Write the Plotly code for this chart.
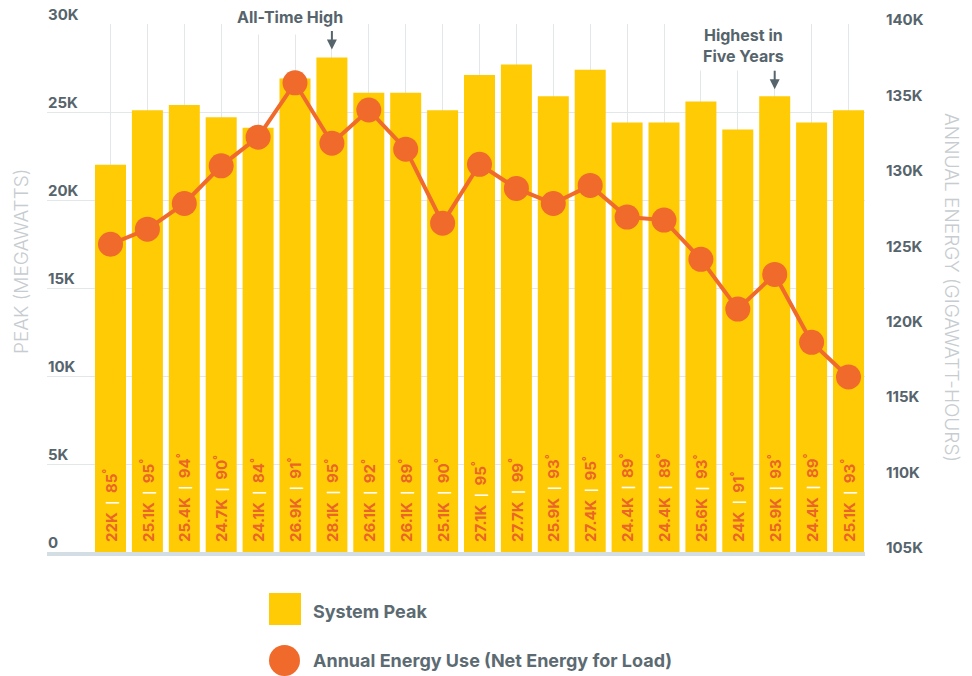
import plotly.graph_objects as go

# Bar slots (one per year, left to right)
slots = list(range(21))

# System peak demand (MW) and the temperature (°F) on the peak day
peak_mw = [22000, 25100, 25400, 24700, 24100, 26900, 28100, 26100, 26100, 25100,
           27100, 27700, 25900, 27400, 24400, 24400, 25600, 24000, 25900, 24400, 25100]
peak_temp_f = [85, 95, 94, 90, 84, 91, 95, 92, 89, 90,
               95, 99, 93, 95, 89, 89, 93, 91, 93, 89, 93]

# Annual energy use, net energy for load (GWh)
energy_gwh = [125400, 126400, 128100, 130600, 132500, 136100, 132100, 134300, 131700, 126800,
              130700, 129100, 128100, 129300, 127200, 127000, 124400, 121100, 123400, 118900, 116600]

left_ticks = [0, 5000, 10000, 15000, 20000, 25000, 30000]
left_tick_text = ["0", "5K", "10K", "15K", "20K", "25K", "30K"]
right_ticks = [105000, 110000, 115000, 120000, 125000, 130000, 135000, 140000]
right_tick_text = ["105K", "110K", "115K", "120K", "125K", "130K", "135K", "140K"]

FONT = "Inter"
YELLOW = "#FFCB05"
ORANGE = "#EF6A2B"
LABEL_ORANGE = "#EA6528"
SLATE = "#56646C"
TITLE_GREY = "#C6CCD0"
GRID = "#E2E7EA"


def k_label(v):
    return f"{v / 1000:g}K"


bar_text = [
    "\u00a0\u00a0" + k_label(p)
    + "\u2002<span style='color:#ffffff;font-size:11px'>|</span>\u2002"
    + f"{t}<sup>°</sup>"
    for p, t in zip(peak_mw, peak_temp_f)
]

fig = go.Figure()

fig.add_trace(go.Bar(
    x=slots, y=peak_mw,
    marker=dict(color=YELLOW, line=dict(width=0)),
    text=bar_text, textposition="inside", insidetextanchor="start",
    textangle=-90,
    textfont=dict(family=FONT, size=15, color=LABEL_ORANGE, weight=700),
    hoverinfo="skip", showlegend=False,
))

fig.add_trace(go.Scatter(
    x=slots, y=energy_gwh, yaxis="y2", mode="lines+markers",
    line=dict(color=ORANGE, width=4),
    marker=dict(color=ORANGE, size=25),
    hoverinfo="skip", showlegend=False,
))

L, R, T, B = 47, 107, 24, 124
W, H = 972, 676
PW, PH = W - L - R, H - T - B


def px_x(px):
    return (px - L) / PW


def px_y(py):
    return (H - B - py) / PH


shapes = [
    # legend swatches
    dict(type="rect", xref="paper", yref="paper",
         x0=px_x(269), x1=px_x(301), y0=px_y(625), y1=px_y(593),
         fillcolor=YELLOW, line=dict(width=0)),
    dict(type="circle", xref="paper", yref="paper",
         x0=px_x(269), x1=px_x(300), y0=px_y(676), y1=px_y(645),
         fillcolor=ORANGE, line=dict(width=0)),
]

annotations = [
    dict(text="System Peak", xref="paper", yref="paper", x=px_x(311), y=px_y(611),
         xanchor="left", yanchor="middle", showarrow=False,
         font=dict(family=FONT, size=18, color="#5C6A72", weight=700)),
    dict(text="Annual Energy Use (Net Energy for Load)", xref="paper", yref="paper",
         x=px_x(311), y=px_y(660), xanchor="left", yanchor="middle", showarrow=False,
         font=dict(family=FONT, size=18, color="#5C6A72", weight=700)),
    # axis titles
    dict(text="PEAK (MEGAWATTS)", xref="paper", yref="paper", x=px_x(21), y=px_y(262),
         xanchor="center", yanchor="middle", textangle=-90, showarrow=False,
         font=dict(family=FONT, size=19, color=TITLE_GREY, weight=300)),
    dict(text="ANNUAL ENERGY (GIGAWATT-HOURS)", xref="paper", yref="paper",
         x=px_x(952), y=px_y(288), xanchor="center", yanchor="middle", textangle=90,
         showarrow=False, font=dict(family=FONT, size=19, color=TITLE_GREY, weight=300)),
    # callouts
    dict(text="All-Time High", xref="x", yref="paper", x=6, xshift=-42, y=px_y(17),
         xanchor="center", yanchor="middle", showarrow=False, bgcolor="#ffffff",
         borderpad=7, font=dict(family=FONT, size=16, color=SLATE, weight=700)),
    dict(text="", xref="x", yref="y", x=6, y=peak_mw[6], yshift=8, ax=0, ay=-20,
         showarrow=True, arrowhead=2, arrowsize=1, arrowwidth=2, arrowcolor=SLATE),
    dict(text="Highest in<br>Five Years", xref="x", yref="paper", x=18, xshift=-31,
         y=px_y(45), xanchor="center", yanchor="middle", showarrow=False,
         bgcolor="#ffffff", borderpad=4,
         font=dict(family=FONT, size=16, color=SLATE, weight=700)),
    dict(text="", xref="x", yref="y", x=18, y=peak_mw[18], yshift=7, ax=0, ay=-20,
         showarrow=True, arrowhead=2, arrowsize=1, arrowwidth=2, arrowcolor=SLATE),
]

period = 36.9
x_lo = -(110.5 - L) / period
x_hi = x_lo + PW / period

fig.update_layout(
    width=W, height=H,
    margin=dict(l=L, r=R, t=T, b=B, pad=0, autoexpand=False),
    paper_bgcolor="#ffffff", plot_bgcolor="#ffffff",
    bargap=0.16,
    font=dict(family=FONT, color=SLATE),
    xaxis=dict(range=[x_lo, x_hi], tickvals=slots, showticklabels=False,
               showgrid=True, gridcolor=GRID, gridwidth=1, zeroline=False,
               showline=True, linecolor="#D3DEE4", linewidth=4, ticks="",
               automargin=False),
    yaxis=dict(range=[0, 30000], tickvals=left_ticks, ticktext=left_tick_text,
               showgrid=True, gridcolor=GRID, gridwidth=1, zeroline=False,
               ticklabelposition="inside", ticklabeloverflow="allow",
               ticklabelshift=-9, ticklabelstandoff=-2, automargin=False,
               tickfont=dict(family=FONT, size=15, color=SLATE, weight=700)),
    yaxis2=dict(range=[105000, 140000], tickvals=right_ticks, ticktext=right_tick_text,
                overlaying="y", side="right", showgrid=False, zeroline=False,
                ticklabeloverflow="allow", ticklabelshift=-4, ticklabelstandoff=20,
                automargin=False,
                tickfont=dict(family=FONT, size=15, color=SLATE, weight=700)),
    shapes=shapes,
    annotations=annotations,
)

fig.write_html("out.html")
